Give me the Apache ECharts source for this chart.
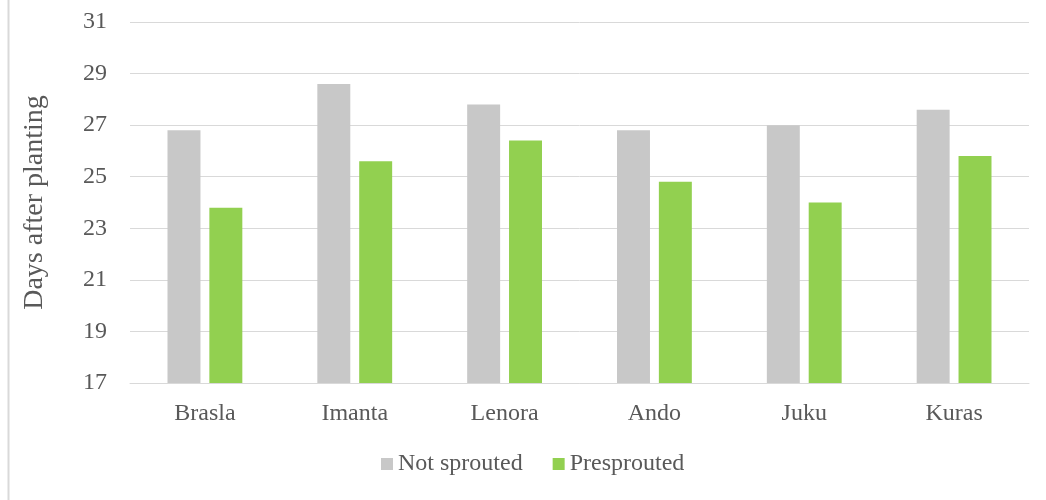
<!DOCTYPE html>
<html>
<head>
<meta charset="utf-8">
<script src="https://cdn.jsdelivr.net/npm/echarts@6/dist/echarts.min.js"></script>
<style>
  html, body { margin: 0; padding: 0; background: #fff; }
  #chart { width: 1046px; height: 500px; }
</style>
</head>
<body>
<div id="chart"></div>
<script>
// varieties on the x axis
const categories = ['Brasla', 'Imanta', 'Lenora', 'Ando', 'Juku', 'Kuras']
// days after planting
const notSprouted = [26.8, 28.6, 27.8, 26.8, 27.0, 27.6]
const presprouted = [23.8, 25.6, 26.4, 24.8, 24.0, 25.8]
const yTicks = { min: 17, max: 31, interval: 2 }

const font = '"Liberation Serif", "Times New Roman", serif'
const textColor = '#595959'

const chart = echarts.init(document.getElementById('chart'))
chart.setOption({
    animation: false,
    textStyle: { fontFamily: font },
    graphic: [{
        type: 'line',
        shape: { x1: 8.5, y1: 0, x2: 8.5, y2: 500 },
        style: { stroke: '#d9d9d9', lineWidth: 2 }
    }],
    grid: { left: 130, right: 17, top: 22, bottom: 117 },
    legend: {
        bottom: 19,
        left: 376,
        itemWidth: 12,
        itemHeight: 12,
        itemGap: 30,
        icon: 'rect',
        textStyle: { fontFamily: font, fontSize: 24, color: textColor },
        data: ['Not sprouted', 'Presprouted']
    },
    xAxis: {
        type: 'category',
        data: categories,
        axisLine: { lineStyle: { color: '#d9d9d9' } },
        axisTick: { show: false },
        axisLabel: { fontFamily: font, fontSize: 24, color: textColor, margin: 19 }
    },
    yAxis: {
        type: 'value',
        min: yTicks.min,
        max: yTicks.max,
        interval: yTicks.interval,
        name: 'Days after planting',
        nameLocation: 'middle',
        nameGap: 81,
        nameTextStyle: { fontFamily: font, fontSize: 28, color: textColor },
        axisLine: { show: false },
        axisTick: { show: false },
        axisLabel: { fontFamily: font, fontSize: 24, color: textColor, margin: 23 },
        splitLine: { lineStyle: { color: '#d9d9d9' } }
    },
    series: [
        {
            name: 'Not sprouted',
            type: 'bar',
            data: notSprouted,
            barWidth: '22%',
            barGap: '27%',
            itemStyle: { color: '#c8c8c8' }
        },
        {
            name: 'Presprouted',
            type: 'bar',
            data: presprouted,
            barWidth: '22%',
            itemStyle: { color: '#92d050' }
        }
    ]
})
</script>
</body>
</html>
